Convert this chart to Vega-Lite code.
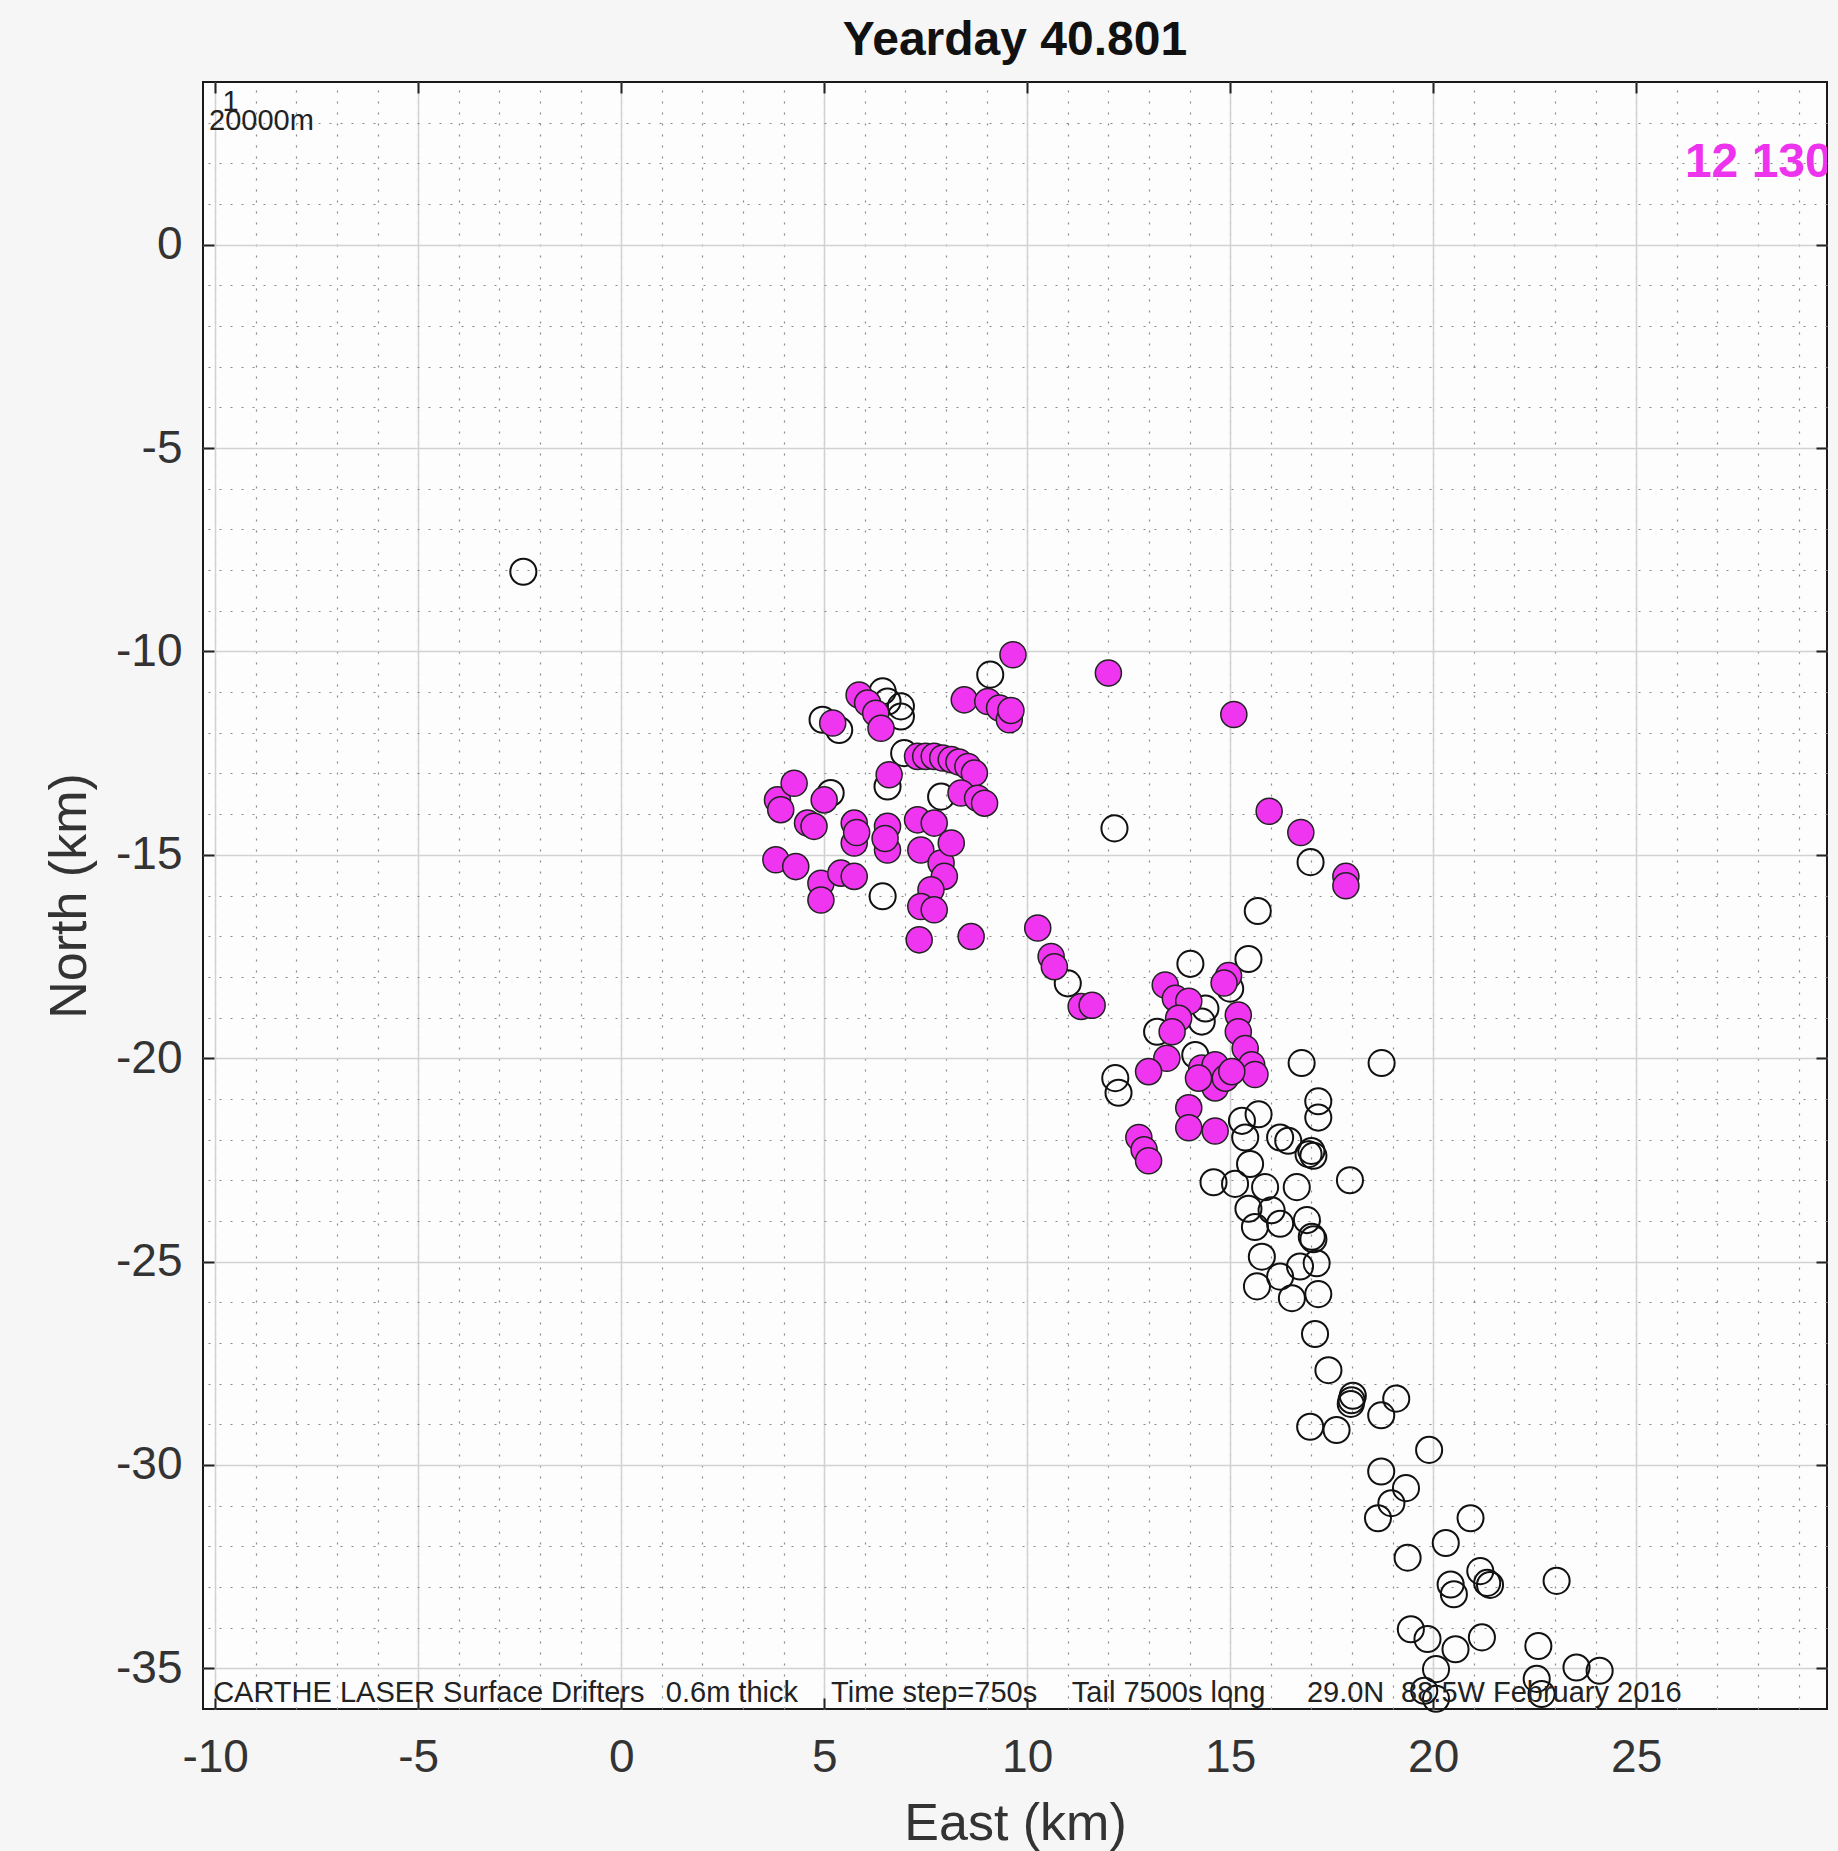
{
  "$schema": "https://vega.github.io/schema/vega-lite/v6.json",
  "width": 1624,
  "height": 1627,
  "autosize": {"type": "none"},
  "padding": {"left": 203, "top": 82, "right": 11, "bottom": 142},
  "background": "#f6f6f6",
  "title": {"text": "Yearday 40.801", "font": "Liberation Sans", "fontSize": 48, "fontWeight": "bold", "color": "#111111", "anchor": "middle", "baseline": "alphabetic", "offset": -22},
  "config": {
    "view": {"stroke": "#1a1a1a", "strokeWidth": 2, "fill": "#fdfdfd"},
    "axis": {"labelFont": "Liberation Sans", "titleFont": "Liberation Sans"}
  },
  "datasets": {
    "drifters": [
      {"x": -2.41, "y": -8.04, "group": "o"},
      {"x": 9.09, "y": -10.57, "group": "o"},
      {"x": 4.96, "y": -11.68, "group": "o"},
      {"x": 5.37, "y": -11.93, "group": "o"},
      {"x": 6.44, "y": -10.98, "group": "o"},
      {"x": 6.56, "y": -11.23, "group": "o"},
      {"x": 6.89, "y": -11.35, "group": "o"},
      {"x": 6.89, "y": -11.6, "group": "o"},
      {"x": 6.97, "y": -12.5, "group": "o"},
      {"x": 6.56, "y": -13.32, "group": "o"},
      {"x": 7.88, "y": -13.57, "group": "o"},
      {"x": 5.16, "y": -13.48, "group": "o"},
      {"x": 6.44, "y": -16.02, "group": "o"},
      {"x": 11.0, "y": -18.16, "group": "o"},
      {"x": 12.15, "y": -14.35, "group": "o"},
      {"x": 16.98, "y": -15.18, "group": "o"},
      {"x": 15.68, "y": -16.38, "group": "o"},
      {"x": 14.02, "y": -17.68, "group": "o"},
      {"x": 15.45, "y": -17.56, "group": "o"},
      {"x": 15.0, "y": -18.29, "group": "o"},
      {"x": 14.39, "y": -18.78, "group": "o"},
      {"x": 14.3, "y": -19.1, "group": "o"},
      {"x": 13.2, "y": -19.35, "group": "o"},
      {"x": 14.14, "y": -19.92, "group": "o"},
      {"x": 12.17, "y": -20.49, "group": "o"},
      {"x": 12.25, "y": -20.85, "group": "o"},
      {"x": 16.76, "y": -20.12, "group": "o"},
      {"x": 18.73, "y": -20.12, "group": "o"},
      {"x": 17.17, "y": -21.06, "group": "o"},
      {"x": 17.17, "y": -21.46, "group": "o"},
      {"x": 15.7, "y": -21.38, "group": "o"},
      {"x": 15.29, "y": -21.54, "group": "o"},
      {"x": 15.37, "y": -21.95, "group": "o"},
      {"x": 16.23, "y": -21.95, "group": "o"},
      {"x": 16.43, "y": -22.03, "group": "o"},
      {"x": 16.93, "y": -22.36, "group": "o"},
      {"x": 17.0, "y": -22.28, "group": "o"},
      {"x": 17.05, "y": -22.4, "group": "o"},
      {"x": 15.49, "y": -22.6, "group": "o"},
      {"x": 14.59, "y": -23.05, "group": "o"},
      {"x": 15.12, "y": -23.09, "group": "o"},
      {"x": 15.86, "y": -23.17, "group": "o"},
      {"x": 16.64, "y": -23.17, "group": "o"},
      {"x": 17.95, "y": -23.0, "group": "o"},
      {"x": 15.45, "y": -23.7, "group": "o"},
      {"x": 16.02, "y": -23.74, "group": "o"},
      {"x": 15.61, "y": -24.15, "group": "o"},
      {"x": 16.23, "y": -24.07, "group": "o"},
      {"x": 16.89, "y": -23.98, "group": "o"},
      {"x": 17.01, "y": -24.39, "group": "o"},
      {"x": 17.05, "y": -24.45, "group": "o"},
      {"x": 15.78, "y": -24.88, "group": "o"},
      {"x": 16.23, "y": -25.37, "group": "o"},
      {"x": 16.72, "y": -25.12, "group": "o"},
      {"x": 17.13, "y": -25.04, "group": "o"},
      {"x": 15.66, "y": -25.61, "group": "o"},
      {"x": 16.52, "y": -25.9, "group": "o"},
      {"x": 17.17, "y": -25.8, "group": "o"},
      {"x": 17.09, "y": -26.78, "group": "o"},
      {"x": 17.42, "y": -27.67, "group": "o"},
      {"x": 17.99, "y": -28.41, "group": "o"},
      {"x": 18.02, "y": -28.3, "group": "o"},
      {"x": 17.97, "y": -28.5, "group": "o"},
      {"x": 19.09, "y": -28.37, "group": "o"},
      {"x": 18.72, "y": -28.78, "group": "o"},
      {"x": 16.97, "y": -29.06, "group": "o"},
      {"x": 17.62, "y": -29.14, "group": "o"},
      {"x": 19.9, "y": -29.63, "group": "o"},
      {"x": 18.72, "y": -30.16, "group": "o"},
      {"x": 19.33, "y": -30.57, "group": "o"},
      {"x": 18.97, "y": -30.94, "group": "o"},
      {"x": 18.64, "y": -31.31, "group": "o"},
      {"x": 20.92, "y": -31.31, "group": "o"},
      {"x": 20.31, "y": -31.92, "group": "o"},
      {"x": 19.37, "y": -32.28, "group": "o"},
      {"x": 21.16, "y": -32.61, "group": "o"},
      {"x": 20.43, "y": -32.94, "group": "o"},
      {"x": 20.51, "y": -33.18, "group": "o"},
      {"x": 21.33, "y": -32.9, "group": "o"},
      {"x": 21.4, "y": -32.95, "group": "o"},
      {"x": 23.04, "y": -32.85, "group": "o"},
      {"x": 19.45, "y": -34.04, "group": "o"},
      {"x": 19.86, "y": -34.28, "group": "o"},
      {"x": 20.55, "y": -34.53, "group": "o"},
      {"x": 21.2, "y": -34.24, "group": "o"},
      {"x": 22.59, "y": -34.45, "group": "o"},
      {"x": 20.07, "y": -35.02, "group": "o"},
      {"x": 22.55, "y": -35.26, "group": "o"},
      {"x": 23.53, "y": -34.98, "group": "o"},
      {"x": 24.1, "y": -35.06, "group": "o"},
      {"x": 22.67, "y": -35.63, "group": "o"},
      {"x": 20.07, "y": -35.75, "group": "o"},
      {"x": 19.78, "y": -35.55, "group": "o"},
      {"x": 9.65, "y": -10.08, "group": "m"},
      {"x": 12.0, "y": -10.53, "group": "m"},
      {"x": 8.45, "y": -11.19, "group": "m"},
      {"x": 9.03, "y": -11.23, "group": "m"},
      {"x": 9.32, "y": -11.39, "group": "m"},
      {"x": 9.56, "y": -11.68, "group": "m"},
      {"x": 9.6, "y": -11.45, "group": "m"},
      {"x": 5.86, "y": -11.07, "group": "m"},
      {"x": 6.07, "y": -11.27, "group": "m"},
      {"x": 6.27, "y": -11.52, "group": "m"},
      {"x": 6.4, "y": -11.89, "group": "m"},
      {"x": 5.21, "y": -11.76, "group": "m"},
      {"x": 7.3, "y": -12.58, "group": "m"},
      {"x": 7.5, "y": -12.58, "group": "m"},
      {"x": 7.71, "y": -12.58, "group": "m"},
      {"x": 7.92, "y": -12.62, "group": "m"},
      {"x": 8.13, "y": -12.66, "group": "m"},
      {"x": 8.32, "y": -12.72, "group": "m"},
      {"x": 8.54, "y": -12.83, "group": "m"},
      {"x": 8.7, "y": -12.99, "group": "m"},
      {"x": 6.6, "y": -13.03, "group": "m"},
      {"x": 8.37, "y": -13.48, "group": "m"},
      {"x": 8.78, "y": -13.61, "group": "m"},
      {"x": 8.95, "y": -13.73, "group": "m"},
      {"x": 3.85, "y": -13.65, "group": "m"},
      {"x": 4.26, "y": -13.24, "group": "m"},
      {"x": 3.93, "y": -13.89, "group": "m"},
      {"x": 4.59, "y": -14.22, "group": "m"},
      {"x": 5.0, "y": -13.65, "group": "m"},
      {"x": 4.75, "y": -14.3, "group": "m"},
      {"x": 5.74, "y": -14.22, "group": "m"},
      {"x": 5.74, "y": -14.71, "group": "m"},
      {"x": 5.8, "y": -14.45, "group": "m"},
      {"x": 6.56, "y": -14.3, "group": "m"},
      {"x": 6.56, "y": -14.88, "group": "m"},
      {"x": 6.5, "y": -14.6, "group": "m"},
      {"x": 7.3, "y": -14.14, "group": "m"},
      {"x": 7.71, "y": -14.22, "group": "m"},
      {"x": 7.38, "y": -14.88, "group": "m"},
      {"x": 7.88, "y": -15.2, "group": "m"},
      {"x": 7.96, "y": -15.53, "group": "m"},
      {"x": 8.13, "y": -14.71, "group": "m"},
      {"x": 7.63, "y": -15.86, "group": "m"},
      {"x": 7.38, "y": -16.27, "group": "m"},
      {"x": 7.71, "y": -16.35, "group": "m"},
      {"x": 3.81, "y": -15.12, "group": "m"},
      {"x": 4.3, "y": -15.29, "group": "m"},
      {"x": 4.92, "y": -15.7, "group": "m"},
      {"x": 4.92, "y": -16.11, "group": "m"},
      {"x": 5.41, "y": -15.45, "group": "m"},
      {"x": 5.74, "y": -15.53, "group": "m"},
      {"x": 7.34, "y": -17.09, "group": "m"},
      {"x": 8.62, "y": -17.01, "group": "m"},
      {"x": 10.26, "y": -16.8, "group": "m"},
      {"x": 10.59, "y": -17.5, "group": "m"},
      {"x": 10.67, "y": -17.75, "group": "m"},
      {"x": 11.33, "y": -18.73, "group": "m"},
      {"x": 11.6, "y": -18.7, "group": "m"},
      {"x": 15.09, "y": -11.55, "group": "m"},
      {"x": 15.96, "y": -13.93, "group": "m"},
      {"x": 16.74, "y": -14.45, "group": "m"},
      {"x": 17.85, "y": -15.53, "group": "m"},
      {"x": 17.85, "y": -15.76, "group": "m"},
      {"x": 14.96, "y": -17.97, "group": "m"},
      {"x": 14.85, "y": -18.15, "group": "m"},
      {"x": 13.4, "y": -18.2, "group": "m"},
      {"x": 13.65, "y": -18.53, "group": "m"},
      {"x": 13.98, "y": -18.6, "group": "m"},
      {"x": 13.73, "y": -19.02, "group": "m"},
      {"x": 13.57, "y": -19.35, "group": "m"},
      {"x": 15.2, "y": -18.94, "group": "m"},
      {"x": 15.2, "y": -19.35, "group": "m"},
      {"x": 15.37, "y": -19.76, "group": "m"},
      {"x": 15.53, "y": -20.16, "group": "m"},
      {"x": 15.61, "y": -20.4, "group": "m"},
      {"x": 13.44, "y": -20.0, "group": "m"},
      {"x": 12.99, "y": -20.33, "group": "m"},
      {"x": 14.3, "y": -20.24, "group": "m"},
      {"x": 14.63, "y": -20.16, "group": "m"},
      {"x": 14.63, "y": -20.73, "group": "m"},
      {"x": 14.88, "y": -20.49, "group": "m"},
      {"x": 15.04, "y": -20.33, "group": "m"},
      {"x": 14.22, "y": -20.49, "group": "m"},
      {"x": 13.98, "y": -21.22, "group": "m"},
      {"x": 13.98, "y": -21.71, "group": "m"},
      {"x": 14.63, "y": -21.79, "group": "m"},
      {"x": 12.75, "y": -21.95, "group": "m"},
      {"x": 12.88, "y": -22.25, "group": "m"},
      {"x": 12.99, "y": -22.52, "group": "m"}
    ],
    "notes": [
      {"x": -10.05, "y": -35.6, "label": "CARTHE LASER Surface Drifters"},
      {"x": 1.1, "y": -35.6, "label": "0.6m thick"},
      {"x": 5.17, "y": -35.6, "label": "Time step=750s"},
      {"x": 11.1, "y": -35.6, "label": "Tail 7500s long"},
      {"x": 16.89, "y": -35.6, "label": "29.0N"},
      {"x": 19.21, "y": -35.6, "label": "88.5W February 2016"}
    ],
    "corner": [
      {"x": -10.15, "y": 3.04, "label": "20000m"}
    ],
    "cornerone": [
      {"x": -9.62, "y": 3.5, "label": "1"}
    ],
    "count": [
      {"x": 26.2, "y": 2.02, "label": "12 130"}
    ]
  },
  "resolve": {"axis": {"x": "independent", "y": "independent"}},
  "layer": [
    {
      "data": {"name": "drifters"},
      "transform": [{"filter": "datum.group === 'o'"}],
      "mark": {"type": "point", "shape": "circle", "filled": false, "size": 680, "stroke": "#111111", "strokeWidth": 2, "opacity": 1},
      "encoding": {
        "x": {"field": "x", "type": "quantitative",
          "scale": {"domain": [-10.3, 29.7], "nice": false, "zero": false},
          "axis": {"orient": "top", "values": [-10,-9,-8,-7,-6,-5,-4,-3,-2,-1,0,1,2,3,4,5,6,7,8,9,10,11,12,13,14,15,16,17,18,19,20,21,22,23,24,25,26,27,28,29],
            "grid": true, "gridDash": [2, 9], "gridColor": "#8a8a8a", "gridWidth": 1.2, "labels": false, "ticks": false, "domain": false, "title": null}},
        "y": {"field": "y", "type": "quantitative",
          "scale": {"domain": [-36, 4], "nice": false, "zero": false},
          "axis": {"orient": "right", "values": [-35,-34,-33,-32,-31,-30,-29,-28,-27,-26,-25,-24,-23,-22,-21,-20,-19,-18,-17,-16,-15,-14,-13,-12,-11,-10,-9,-8,-7,-6,-5,-4,-3,-2,-1,0,1,2,3],
            "grid": true, "gridDash": [2, 9], "gridColor": "#8a8a8a", "gridWidth": 1.2, "labels": false, "ticks": false, "domain": false, "title": null}}
      }
    },
    {
      "data": {"name": "drifters"},
      "transform": [{"filter": "datum.group === 'm'"}],
      "mark": {"type": "point", "shape": "circle", "filled": true, "size": 680, "fill": "#f035f0", "stroke": "#222222", "strokeWidth": 1.5, "opacity": 1},
      "encoding": {
        "x": {"field": "x", "type": "quantitative",
          "scale": {"domain": [-10.3, 29.7], "nice": false, "zero": false},
          "axis": {"orient": "bottom", "values": [-10, -5, 0, 5, 10, 15, 20, 25], "grid": true, "gridColor": "#d2d2d2", "gridWidth": 1.5,
            "domain": false, "ticks": true, "tickSize": -11, "tickColor": "#222222", "tickWidth": 2,
            "labelExpr": "'' + datum.value",
            "labelFontSize": 46, "labelColor": "#333333", "labelPadding": 37,
            "title": "East (km)", "titleFontSize": 52, "titleFontWeight": "normal", "titleColor": "#333333", "titlePadding": 18}},
        "y": {"field": "y", "type": "quantitative",
          "scale": {"domain": [-36, 4], "nice": false, "zero": false},
          "axis": {"orient": "left", "values": [-35, -30, -25, -20, -15, -10, -5, 0], "grid": true, "gridColor": "#d2d2d2", "gridWidth": 1.5,
            "domain": false, "ticks": true, "tickSize": -11, "tickColor": "#222222", "tickWidth": 2,
            "labelExpr": "'' + datum.value",
            "labelFontSize": 46, "labelColor": "#333333", "labelPadding": 32,
            "title": "North (km)", "titleFontSize": 52, "titleFontWeight": "normal", "titleColor": "#333333", "titlePadding": 19}}
      }
    },
    {
      "data": {"name": "notes"},
      "mark": {"type": "text", "font": "Liberation Sans", "fontSize": 29, "align": "left", "baseline": "middle", "color": "#222222"},
      "encoding": {
        "x": {"field": "x", "type": "quantitative", "scale": {"domain": [-10.3, 29.7], "nice": false, "zero": false}, "axis": null},
        "y": {"field": "y", "type": "quantitative", "scale": {"domain": [-36, 4], "nice": false, "zero": false}, "axis": null},
        "text": {"field": "label"}
      }
    },
    {
      "data": {"name": "corner"},
      "mark": {"type": "text", "font": "Liberation Sans", "fontSize": 29, "align": "left", "baseline": "middle", "color": "#222222"},
      "encoding": {
        "x": {"field": "x", "type": "quantitative", "scale": {"domain": [-10.3, 29.7], "nice": false, "zero": false},
          "axis": {"orient": "top", "values": [-10, -5, 0, 5, 10, 15, 20, 25], "grid": false, "domain": false, "labels": false, "ticks": true, "tickSize": -11, "tickColor": "#222222", "tickWidth": 2, "title": null}},
        "y": {"field": "y", "type": "quantitative", "scale": {"domain": [-36, 4], "nice": false, "zero": false},
          "axis": {"orient": "right", "values": [-35, -30, -25, -20, -15, -10, -5, 0], "grid": false, "domain": false, "labels": false, "ticks": true, "tickSize": -11, "tickColor": "#222222", "tickWidth": 2, "title": null}},
        "text": {"field": "label"}
      }
    },
    {
      "data": {"name": "cornerone"},
      "mark": {"type": "text", "font": "Liberation Sans", "fontSize": 29, "align": "center", "baseline": "middle", "color": "#222222"},
      "encoding": {
        "x": {"field": "x", "type": "quantitative", "scale": {"domain": [-10.3, 29.7], "nice": false, "zero": false}, "axis": null},
        "y": {"field": "y", "type": "quantitative", "scale": {"domain": [-36, 4], "nice": false, "zero": false}, "axis": null},
        "text": {"field": "label"}
      }
    },
    {
      "data": {"name": "count"},
      "mark": {"type": "text", "font": "Liberation Sans", "fontSize": 48, "fontWeight": "bold", "align": "left", "baseline": "middle", "color": "#ee33ee", "clip": true},
      "encoding": {
        "x": {"field": "x", "type": "quantitative", "scale": {"domain": [-10.3, 29.7], "nice": false, "zero": false}, "axis": null},
        "y": {"field": "y", "type": "quantitative", "scale": {"domain": [-36, 4], "nice": false, "zero": false}, "axis": null},
        "text": {"field": "label"}
      }
    }
  ]
}
